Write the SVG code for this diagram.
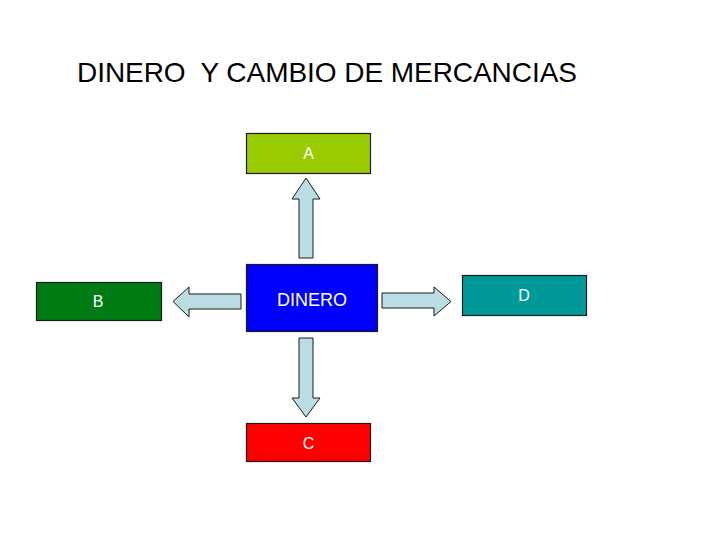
<svg xmlns="http://www.w3.org/2000/svg" width="720" height="540" viewBox="0 0 720 540">
<style>
.box{stroke:#1a1a1a;stroke-width:1.2}
.lbl{font-family:"Liberation Sans",Arial,sans-serif;font-size:16px;fill:#ffffff;text-anchor:middle}
.arr{fill:#b9dde3;stroke:#1a1a1a;stroke-width:1}
</style>
<rect width="720" height="540" fill="#ffffff"/>
<text x="77" y="82" font-family="Liberation Sans, Arial, sans-serif" font-size="28" fill="#000000" xml:space="preserve" textLength="500">DINERO  Y CAMBIO DE MERCANCIAS</text>
<g id="connectors">
<path class="arr" d="M299,258 L299,199 L292,199 L306,178 L320,199 L313,199 L313,258 Z"/>
<path class="arr" d="M241,294 L189,294 L189,287 L173,301.5 L189,317 L189,309 L241,309 Z"/>
<path class="arr" d="M382,293 L434,293 L434,287 L451,301.5 L434,316 L434,308 L382,308 Z"/>
<path class="arr" d="M299,338 L299,398 L292,398 L306,417 L320,398 L313,398 L313,338 Z"/>
</g>
<g id="nodeA"><rect class="box" x="246.5" y="133.5" width="124" height="40" fill="#99cc00"/><text class="lbl" x="308.5" y="159">A</text></g>
<g id="nodeDinero"><rect class="box" x="246.5" y="264.5" width="131" height="67" fill="#0000ff" stroke="#000040"/><text class="lbl" x="312" y="306" style="font-size:18px">DINERO</text></g>
<g id="nodeB"><rect class="box" x="36.5" y="282.5" width="125" height="38" fill="#007a12"/><text class="lbl" x="98" y="307">B</text></g>
<g id="nodeD"><rect class="box" x="462.5" y="275.5" width="124" height="40" fill="#009999"/><text class="lbl" x="524" y="301">D</text></g>
<g id="nodeC"><rect class="box" x="246.5" y="423.5" width="124" height="38" fill="#ff0000"/><text class="lbl" x="308.5" y="449">C</text></g>
</svg>
